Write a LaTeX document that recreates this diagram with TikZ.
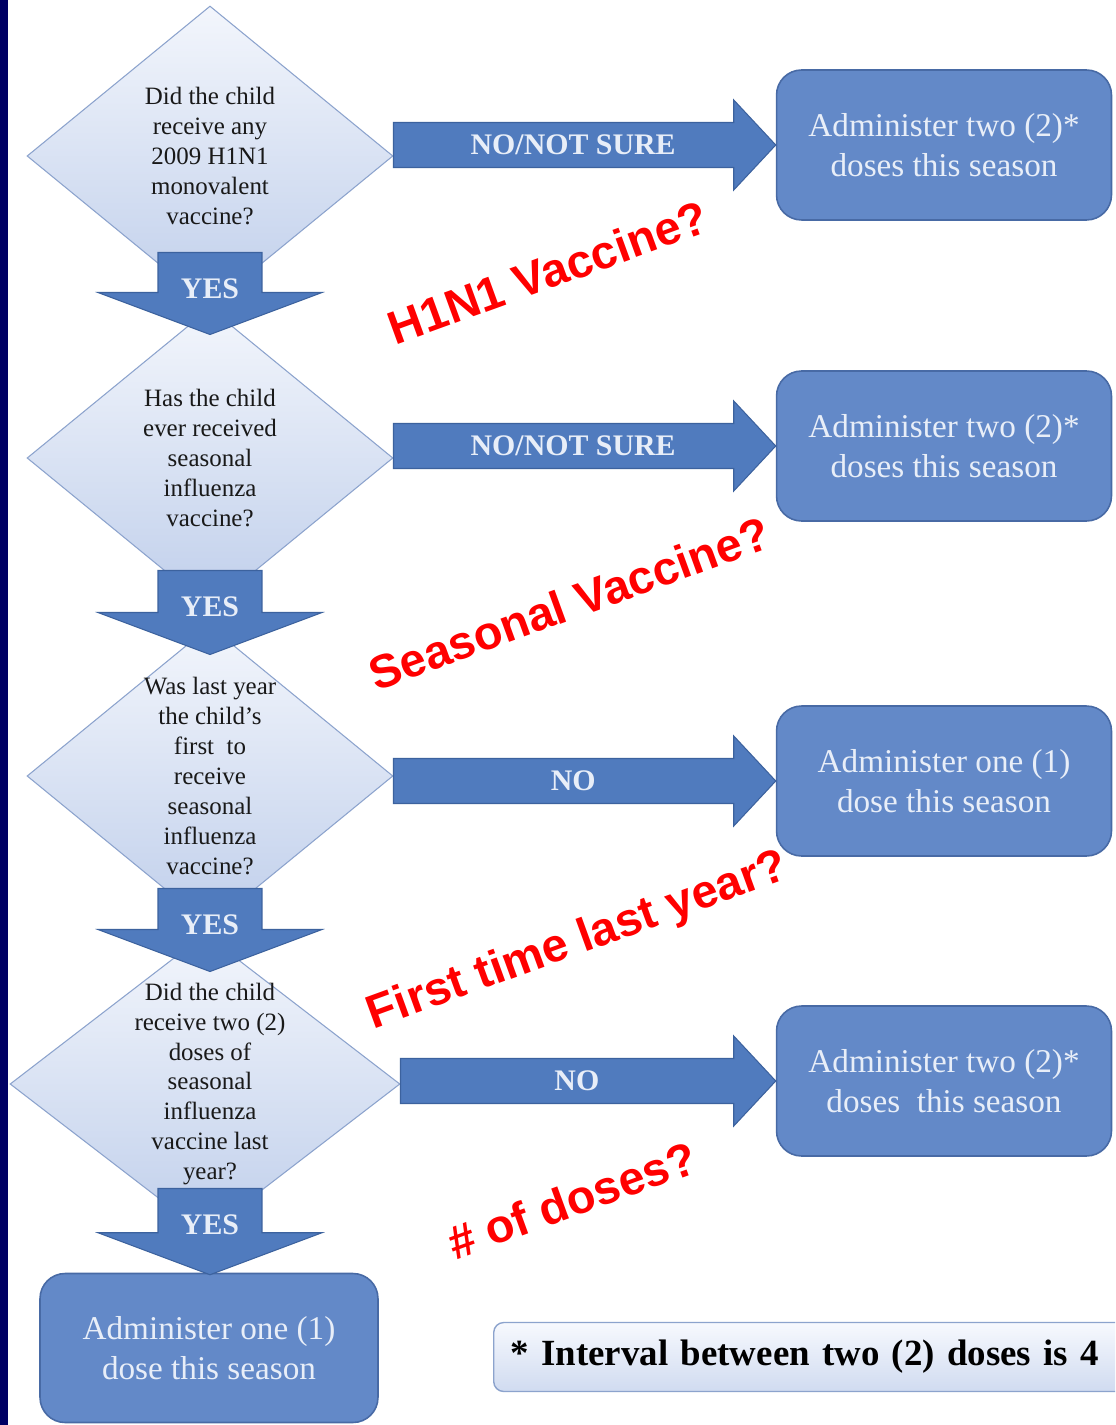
\documentclass[tikz,border=0pt]{standalone}
\usepackage{fontspec}
\setmainfont{Liberation Serif}
\newfontfamily\redsans{Liberation Sans}
\usepackage{tikz}
\usetikzlibrary{shapes.geometric,calc}
\definecolor{fcnavy}{RGB}{0,0,100}
\definecolor{fcbox}{RGB}{99,137,200}
\definecolor{fcboxedge}{RGB}{72,106,165}
\definecolor{fcboxtext}{RGB}{232,238,248}
\definecolor{fcarr}{RGB}{80,123,190}
\definecolor{fcarredge}{RGB}{60,98,158}
\definecolor{fcqtop}{RGB}{243,246,252}
\definecolor{fcqbot}{RGB}{192,207,235}
\definecolor{fcqedge}{RGB}{140,163,205}
\definecolor{fcnotetop}{RGB}{247,249,254}
\definecolor{fcnotebot}{RGB}{208,219,240}
\definecolor{fcred}{RGB}{255,0,0}
\tikzset{
  quest/.style={
    diamond, draw=fcqedge, line width=0.6pt, top color=fcqtop, bottom color=fcqbot,
    inner sep=0pt, minimum width=73.2mm, minimum height=60mm
  },
  qtext/.style={align=center, font=\fontsize{14.2}{17}\selectfont, text=black!90},
  dose/.style={
    draw=fcboxedge, line width=0.9pt, fill=fcbox, rounded corners=5mm,
    minimum width=67mm, minimum height=30mm, align=center, text=fcboxtext,
    font=\fontsize{18.9}{22.7}\selectfont
  },
  rarr/.style={
    fill=fcarr, draw=fcarredge, line width=0.6pt,
    to path={let \p1=(\tikztostart), \p2=(\tikztotarget) in
      (\x1,\y1+4.5mm) -- (\x2-8.4mm,\y1+4.5mm) -- (\x2-8.4mm,\y1+9mm) -- (\x2,\y1)
      -- (\x2-8.4mm,\y1-9mm) -- (\x2-8.4mm,\y1-4.5mm) -- (\x1,\y1-4.5mm) -- cycle}
  },
  darr/.style={
    fill=fcarr, draw=fcarredge, line width=0.6pt,
    to path={let \p1=(\tikztostart), \p2=(\tikztotarget) in
      (\x1-10.4mm,\y1) -- (\x1+10.4mm,\y1) -- (\x1+10.4mm,\y2+8.4mm) -- (\x1+22.4mm,\y2+8.4mm)
      -- (\x1,\y2) -- (\x1-22.4mm,\y2+8.4mm) -- (\x1-10.4mm,\y2+8.4mm) -- cycle}
  },
  armlbl/.style={font=\bfseries\fontsize{17}{20}\selectfont, text=fcboxtext, inner sep=0pt},
  note/.style={
    draw=fcqedge, line width=0.8pt, rounded corners=2mm, top color=fcnotetop,
    bottom color=fcnotebot, minimum height=13.8mm, text width=130mm, align=left,
    inner xsep=3.4mm, font=\bfseries\fontsize{21}{25}\selectfont, text=black
  },
  redq/.style={font=\redsans\bfseries\fontsize{26.7}{32}\selectfont, text=fcred, rotate=20}
}
\begin{document}
\begin{tikzpicture}[x=0.02cm, y=-0.02cm]
  \useasboundingbox (0,0) rectangle (1115,1425);
  \clip (0,0) rectangle (1115,1425);
  \fill[white] (0,0) rectangle (1115,1425);
  \fill[fcnavy] (0,0) rectangle (8,1425);

  % questions
  \node[quest] (q1) at (210,156) {};
  \node[quest] (q2) at (210,458) {};
  \node[quest] (q3) at (210,776) {};
  \node[quest, minimum width=78mm] (q4) at (205,1084) {};

  % outcomes
  \node[dose] (b1) at (944,145) {Administer two (2)*\\doses this season};
  \node[dose] (b2) at (944,446) {Administer two (2)*\\doses this season};
  \node[dose] (b3) at (944,781) {Administer one (1)\\dose this season};
  \node[dose] (b4) at (944,1081) {Administer two (2)*\\doses\ \ this season};
  \node[dose, minimum width=67.6mm, minimum height=29.8mm] (b5) at (209,1348)
    {Administer one (1)\\dose this season};

  % no branches
  \coordinate (n1) at (q1.east |- b1.west);
  \coordinate (n2) at (q2.east |- b2.west);
  \coordinate (n3) at (q3.east |- b3.west);
  \coordinate (n4) at (q4.east |- b4.west);
  \path[rarr] (n1) to (b1.west);
  \path[rarr] (n2) to (b2.west);
  \path[rarr] (n3) to (b3.west);
  \path[rarr] (n4) to (b4.west);
  \node[armlbl] (l1) at ($(n1)!0.47!(b1.west)$) {NO/NOT SURE};
  \node[armlbl] (l2) at ($(n2)!0.47!(b2.west)$) {NO/NOT SURE};
  \node[armlbl] (l3) at ($(n3)!0.47!(b3.west)$) {NO};
  \node[armlbl] (l4) at ($(n4)!0.47!(b4.west)$) {NO};

  % yes branches
  \coordinate (y1) at ($(q1.south)+(0,-54)$);
  \coordinate (y2) at ($(q2.south)+(0,-38)$);
  \coordinate (y3) at ($(q3.south)+(0,-38)$);
  \coordinate (y4) at ($(q4.south)+(5,-46)$);
  \path[darr] (y1) to ($(q2.north)+(0,27)$);
  \path[darr] (y2) to ($(q3.north)+(0,29)$);
  \path[darr] (y3) to ($(q4.north)+(5,38)$);
  \path[darr] (y4) to ($(b5.north)+(1,2)$);
  \node[armlbl] (k1) at ($(y1)+(0,36)$) {YES};
  \node[armlbl] (k2) at ($(y2)+(0,36)$) {YES};
  \node[armlbl] (k3) at ($(y3)+(0,36)$) {YES};
  \node[armlbl] (k4) at ($(y4)+(0,36)$) {YES};

  % question texts
  \node[qtext] (t1) at (q1) {Did the child\\receive any\\2009 H1N1\\monovalent\\vaccine?};
  \node[qtext] (t2) at (q2) {Has the child\\ever received\\seasonal\\influenza\\vaccine?};
  \node[qtext] (t3) at (q3) {Was last year\\the child's\\first\ \ to\\receive\\seasonal\\influenza\\vaccine?};
  \node[qtext] (t4) at ($(q4)+(5,0)$) {Did the child\\receive two (2)\\doses of\\seasonal\\influenza\\vaccine last\\year?};

  % footnote
  \node[note, anchor=west] (fn) at (493,1357) {* Interval between two (2) doses is 4};

  % red remarks
  \node[redq] (r1) at (548,272) {H1N1 Vaccine?};
  \node[redq] (r2) at (569,603) {Seasonal Vaccine?};
  \node[redq] (r3) at (578,942) {First time last year?};
  \node[redq] (r4) at (572,1200) {\# of doses?};
\end{tikzpicture}
\end{document}
